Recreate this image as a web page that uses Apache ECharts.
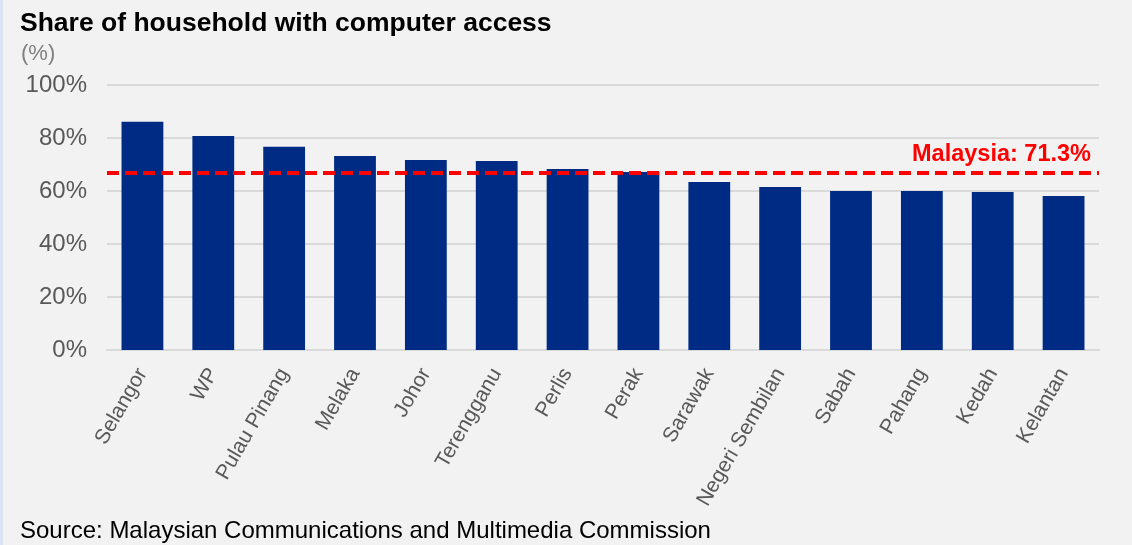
<!DOCTYPE html>
<html>
<head>
<meta charset="utf-8">
<script src="https://cdn.jsdelivr.net/npm/echarts@6/dist/echarts.min.js"></script>
<style>
    html, body { margin: 0; padding: 0; background: #f2f2f2; }
    #chart { width: 1132px; height: 545px; }
</style>
</head>
<body>
<div id="chart"></div>
<script>
    // states, sorted by share
    const states = ['Selangor', 'WP', 'Pulau Pinang', 'Melaka', 'Johor', 'Terengganu', 'Perlis',
        'Perak', 'Sarawak', 'Negeri Sembilan', 'Sabah', 'Pahang', 'Kedah', 'Kelantan'];
    const shareValues = [86.1, 80.8, 76.7, 73.2, 71.7, 71.3, 68.3, 67.2, 63.4, 61.5, 60.0, 60.0, 59.6, 58.1];
    // national line (drawn where the picture puts it) and its label
    const malaysiaLine = 67.0;
    const malaysiaLabel = 'Malaysia: 71.3%';
    const yTicks = [0, 20, 40, 60, 80, 100];

    const font = '"Liberation Sans", Arial, sans-serif';
    let chart = echarts.init(document.getElementById('chart'));

    chart.setOption({
        backgroundColor: '#f2f2f2',
        textStyle: {fontFamily: font},
        title: [
            {
                text: 'Share of household with computer access',
                left: 20, top: 10, padding: 0,
                textStyle: {fontFamily: font, fontSize: 26.5, fontWeight: 'bold', color: '#000'}
            },
            {
                text: '(%)',
                left: 21, top: 43, padding: 0,
                textStyle: {fontFamily: font, fontSize: 22, fontWeight: 'normal', color: '#7f7f7f'}
            },
            {
                text: 'Source: Malaysian Communications and Multimedia Commission',
                left: 20, top: 519, padding: 0,
                textStyle: {fontFamily: font, fontSize: 24, fontWeight: 'normal', color: '#000'}
            }
        ],
        graphic: [
            {type: 'rect', left: 0, top: 0, shape: {width: 3, height: 545}, style: {fill: '#dae3f3'}}
        ],
        grid: {left: 107, right: 33, top: 85, bottom: 195},
        xAxis: {
            type: 'category',
            data: states,
            axisLine: {lineStyle: {color: '#d9d9d9', width: 2}},
            axisTick: {show: false},
            axisLabel: {
                rotate: 60,
                interval: 0,
                margin: 20,
                fontFamily: font,
                fontSize: 21,
                color: '#595959'
            }
        },
        yAxis: {
            type: 'value',
            min: yTicks[0],
            max: yTicks[yTicks.length - 1],
            interval: 20,
            axisLine: {show: false},
            axisTick: {show: false},
            axisLabel: {
                formatter: '{value}%',
                margin: 20,
                fontFamily: font,
                fontSize: 24,
                color: '#595959'
            },
            splitLine: {lineStyle: {color: '#d9d9d9', width: 2}}
        },
        series: [
            {
                name: 'Share',
                type: 'bar',
                data: shareValues,
                barWidth: '59%',
                itemStyle: {color: '#002b85'},
                markLine: {
                    silent: true,
                    symbol: 'none',
                    lineStyle: {color: '#ff0000', type: [12, 6], width: 4},
                    label: {
                        position: 'insideEndTop',
                        formatter: malaysiaLabel,
                        fontFamily: font,
                        fontSize: 23.5,
                        fontWeight: 'bold',
                        color: '#ff0000',
                        distance: [8, 6]
                    },
                    data: [{yAxis: malaysiaLine}]
                }
            }
        ]
    });
</script>
</body>
</html>
